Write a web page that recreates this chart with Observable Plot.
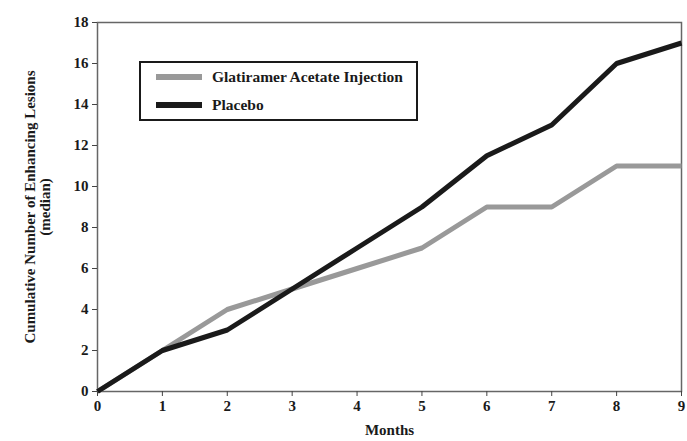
<!DOCTYPE html>
<html>
<head>
<meta charset="utf-8">
<script src="https://cdn.jsdelivr.net/npm/d3@7"></script>
<script src="https://cdn.jsdelivr.net/npm/@observablehq/plot@0.6"></script>
<style>
  html, body { margin: 0; padding: 0; background: #fff; }
  #wrap { position: relative; width: 687px; height: 441px; font-family: "Liberation Serif", "Times New Roman", serif; }
  #legend { position: absolute; left: 139px; top: 61px; width: 275px; height: 56px; border: 2.5px solid #1a1a1a; background: #fff; font-weight: bold; font-size: 15.5px; color: #1a1a1a; }
  .item { position: absolute; left: 15px; display: flex; align-items: center; }
  .sw { width: 46px; height: 6px; margin-right: 10px; }
</style>
</head>
<body>
<div id="wrap"></div>
<script>
const months = [0, 1, 2, 3, 4, 5, 6, 7, 8, 9];
const glatiramer = [0, 2, 4, 5, 6, 7, 9, 9, 11, 11];
const placebo = [0, 2, 3, 5, 7, 9, 11.5, 13, 16, 17];
const seriesNames = ["Glatiramer Acetate Injection", "Placebo"];
const seriesColors = ["#999999", "#1a1a1a"];
const yTicks = [0, 2, 4, 6, 8, 10, 12, 14, 16, 18];
const xTicks = months;
const yLabel = "Cumulative Number of Enhancing Lesions\n(median)";
const xLabel = "Months";

const data = [];
[glatiramer, placebo].forEach((vals, i) => {
  months.forEach((m, j) => data.push({series: seriesNames[i], month: m, value: vals[j]}));
});

const chart = Plot.plot({
  width: 687,
  height: 441,
  marginLeft: 97,
  marginRight: 6,
  marginTop: 22,
  marginBottom: 50,
  style: {fontFamily: "'Liberation Serif', 'Times New Roman', serif", fontSize: "15px", fontWeight: "bold", color: "#1a1a1a", background: "#fff"},
  x: {domain: [0, 9]},
  y: {domain: [0, 18]},
  color: {domain: seriesNames, range: seriesColors},
  marks: [
    Plot.frame({stroke: "#666", strokeWidth: 1.5}),
    Plot.axisX({ticks: xTicks, tickSize: 5, tickPadding: 4, stroke: "#444", label: xLabel, labelAnchor: "center", labelArrow: "none", labelOffset: 43, fontWeight: "bold", fontSize: 15}),
    Plot.axisY({ticks: yTicks, tickSize: 5, tickPadding: 4, stroke: "#444", label: null, fontWeight: "bold", fontSize: 15}),
    Plot.line(data, {x: "month", y: "value", z: "series", stroke: "series", strokeWidth: 5, strokeLinejoin: "miter", strokeLinecap: "butt"}),
    Plot.text([yLabel], {frameAnchor: "left", rotate: -90, dx: -60, lineAnchor: "middle", textAnchor: "middle", fontWeight: "bold", fontSize: 15, fill: "#1a1a1a", lineHeight: 1.0})
  ]
});

const wrap = document.getElementById("wrap");
wrap.appendChild(chart);

const legend = document.createElement("div");
legend.id = "legend";
seriesNames.forEach((name, i) => {
  const item = document.createElement("div");
  item.className = "item";
  item.style.top = (i === 0 ? 5 : 33) + "px";
  const sw = document.createElement("span");
  sw.className = "sw";
  sw.style.background = seriesColors[i];
  const t = document.createElement("span");
  t.textContent = name;
  item.appendChild(sw);
  item.appendChild(t);
  legend.appendChild(item);
});
wrap.appendChild(legend);
</script>
</body>
</html>
